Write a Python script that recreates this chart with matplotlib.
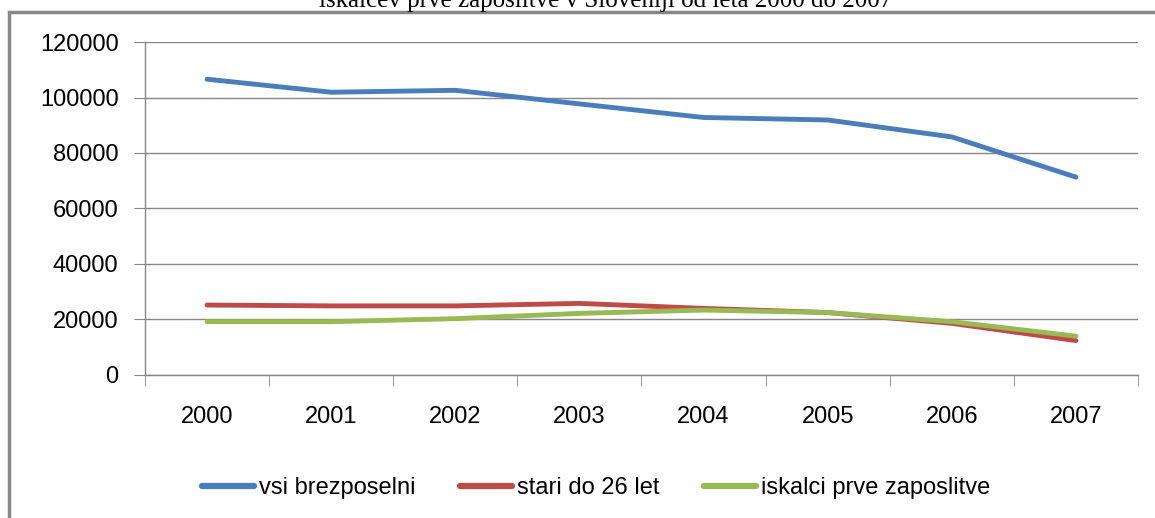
import matplotlib.pyplot as plt
from matplotlib.patches import Rectangle

# podatki (odčitani s slike)
leta = ["2000", "2001", "2002", "2003", "2004", "2005", "2006", "2007"]
vsi_brezposelni = [106600, 101900, 102600, 97700, 92800, 91900, 85800, 71300]
stari_do_26 = [25200, 24900, 24900, 25800, 24000, 22500, 18600, 12400]
iskalci_prve = [19200, 19200, 20300, 22200, 23400, 22500, 19200, 14000]

plt.rcParams['font.family'] = ['Liberation Sans', 'DejaVu Sans']
grid_col = '#868686'

fig = plt.figure(figsize=(11.55, 5.18), dpi=100)
ax = fig.add_axes([0.1255, 0.2761, 0.8598, 0.6428])

x = range(len(leta))
ax.plot(x, vsi_brezposelni, color='#4A7EBB', lw=3.5, label='vsi brezposelni',
        solid_joinstyle='round', solid_capstyle='round', zorder=3)
ax.plot(x, stari_do_26, color='#BE4B48', lw=3.5, label='stari do 26 let',
        solid_joinstyle='round', solid_capstyle='round', zorder=3)
ax.plot(x, iskalci_prve, color='#98B954', lw=3.5, label='iskalci prve zaposlitve',
        solid_joinstyle='round', solid_capstyle='round', zorder=4)

ax.set_xlim(-0.5, len(leta) - 0.5)
ax.set_ylim(0, 120000)
ax.set_yticks(range(0, 120001, 20000))
ax.set_xticks(x)
ax.set_xticklabels(leta)
ax.set_xticks([i - 0.5 for i in range(len(leta) + 1)], minor=True)

ax.grid(axis='y', color=grid_col, lw=1)
ax.set_axisbelow(True)
for s in ['top', 'right']:
    ax.spines[s].set_visible(False)
for s in ['left', 'bottom']:
    ax.spines[s].set_color(grid_col)
    ax.spines[s].set_linewidth(1)

ax.tick_params(axis='x', which='major', length=0, pad=22, labelsize=17)
ax.tick_params(axis='x', which='minor', length=8, color=grid_col, direction='out')
ax.tick_params(axis='y', length=8, color=grid_col, labelsize=17, pad=11)

leg = fig.legend(loc='center', bbox_to_anchor=(0.516, 0.058), ncol=3, frameon=False,
                 fontsize=17, handlelength=2.2, handletextpad=0.2, columnspacing=1.9)
for h in leg.get_lines():
    h.set_linewidth(4.5)

# okvir grafikona
fig.patches.append(Rectangle((9 / 1155, -0.05), 1.2, 1 - 12 / 518 + 0.05,
                             transform=fig.transFigure, fill=False,
                             edgecolor=grid_col, lw=2.5))

fig.text(0.524, 1 - 7 / 518,
         "iskalcev prve zaposlitve v Sloveniji od leta 2000 do 2007",
         ha='center', va='baseline', fontsize=18,
         family=['Liberation Serif', 'DejaVu Serif'])

fig.savefig("out.png", dpi=100)
